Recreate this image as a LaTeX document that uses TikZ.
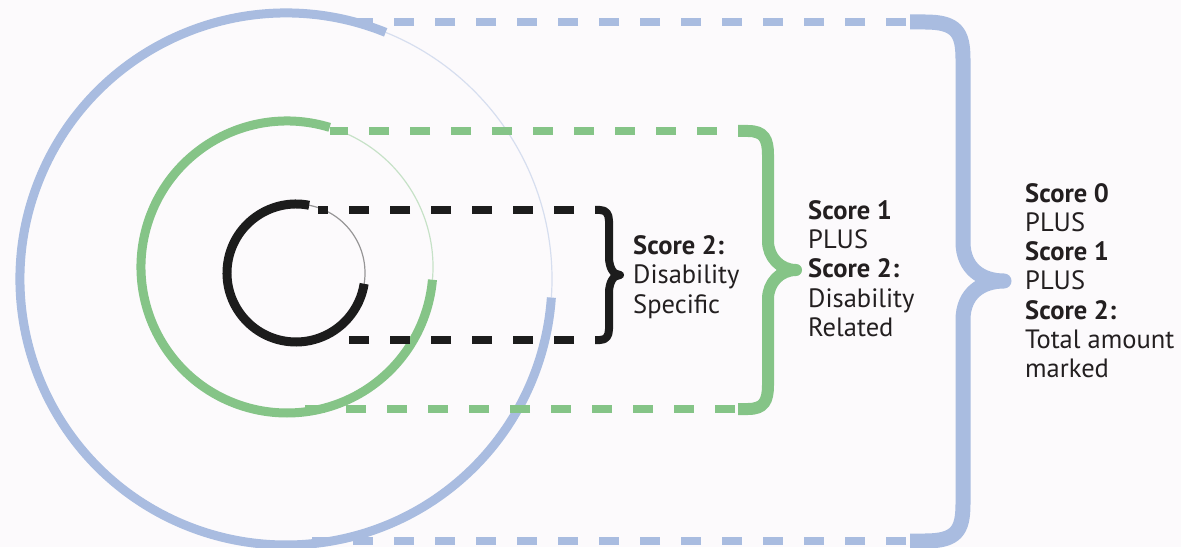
\documentclass[tikz,border=0pt]{standalone}
\usepackage{fontspec}
\setmainfont{PT Sans}
\definecolor{ringblue}{RGB}{169,188,224}
\definecolor{ringgreen}{RGB}{133,196,135}
\definecolor{ringblack}{RGB}{28,28,28}
\definecolor{textgray}{RGB}{35,31,32}
\definecolor{paper}{RGB}{252,250,252}

\begin{document}
\begin{tikzpicture}[x=1pt, y=1pt,
	ring/.style={line width=9pt},
	ringtail/.style={line width=1.2pt, opacity=0.45},
	dashline/.style={line width=8pt, dash pattern=on 20.5pt off 20.5pt},
	bracket/.style={line width=#1, line join=round},
	scoretext/.style={anchor=west, align=left, inner sep=0pt, text=textgray,
		font=\fontsize{26.5}{29.2}\selectfont}]
				\fill[paper] (0,0) rectangle (1181,547);
				\useasboundingbox (0,0) rectangle (1181,547);

				% 円を描く
				\coordinate (Cblue) at (286,268);
				\coordinate (Cgreen) at (287,280);
				\coordinate (Cblack) at (296,274);
				\draw[ring, ringblue] (Cblue) ++(68:266) arc[start angle=68, end angle=356, radius=266];
				\draw[ringtail, ringblue] (Cblue) ++(-4:266) arc[start angle=-4, end angle=68, radius=266];
				\draw[ring, ringgreen] (Cgreen) ++(73:146) arc[start angle=73, end angle=355, radius=146];
				\draw[ringtail, ringgreen] (Cgreen) ++(-5:146) arc[start angle=-5, end angle=73, radius=146];
				\draw[ring, ringblack] (Cblack) ++(79:69) arc[start angle=79, end angle=351, radius=69];
				\draw[ringtail, ringblack] (Cblack) ++(-9:69) arc[start angle=-9, end angle=79, radius=69];

				% 線を引く
				\coordinate (Bt0) at (345,525);
				\coordinate (Bt1) at (910,525);
				\coordinate (Bb0) at (310,6);
				\coordinate (Bb1) at (910,6);
				\coordinate (Gt0) at (330,416);
				\coordinate (Gt1) at (738,416);
				\coordinate (Gb0) at (290,138);
				\coordinate (Gb1) at (738,138);
				\coordinate (Kt0) at (318,337);
				\coordinate (Kt1) at (595,337);
				\coordinate (Kb0) at (330,207);
				\coordinate (Kb1) at (595,207);
				\draw[dashline, ringblue, dash phase=37] (Bt1) -- (Bt0);
				\draw[dashline, ringblue, dash phase=37] (Bb1) -- (Bb0);
				\draw[dashline, ringgreen, dash phase=20] (Gt1) -- (Gt0);
				\draw[dashline, ringgreen, dash phase=38] (Gb1) -- (Gb0);
				\draw[dashline, ringblack, dash phase=20] (Kt1) -- (Kt0);
				\draw[dashline, ringblack, dash phase=20] (Kb1) -- (Kb0);

				% 括弧
				\draw[bracket=15pt, ringblue] (Bt1) -- (925,525) .. controls (956,525) and (963,515) .. (963,488)
					-- (963,305) .. controls (963,278) and (982,266) .. (1004,266)
					.. controls (982,266) and (963,254) .. (963,227)
					-- (963,43) .. controls (963,16) and (956,6) .. (925,6) -- (Bb1);
				\draw[bracket=12pt, ringgreen] (Gt1) -- (748,416) .. controls (764,416) and (768,408) .. (768,392)
					-- (768,306) .. controls (768,290) and (780,277) .. (796,277)
					.. controls (780,277) and (768,264) .. (768,248)
					-- (768,162) .. controls (768,146) and (764,138) .. (748,138) -- (Gb1);
				\draw[bracket=8pt, ringblack] (Kt1) -- (600,337) .. controls (606,337) and (609,333) .. (609,326)
					-- (609,290) .. controls (609,280) and (613,272) .. (620,272)
					.. controls (613,272) and (609,264) .. (609,254)
					-- (609,218) .. controls (609,211) and (606,207) .. (600,207) -- (Kb1);

				% 文字を入れる
				\node[scoretext] (Tblack) at (633,270) {\textbf{Score 2:}\\Disability\\Specific};
				\node[scoretext] (Tgreen) at (808,278.5) {\textbf{Score 1}\\PLUS\\\textbf{Score 2:}\\Disability\\Related};
				\node[scoretext] (Tblue) at (1025,266.5) {\textbf{Score 0}\\PLUS\\\textbf{Score 1}\\PLUS\\\textbf{Score 2:}\\Total amount\\marked};

			\end{tikzpicture}
\end{document}
